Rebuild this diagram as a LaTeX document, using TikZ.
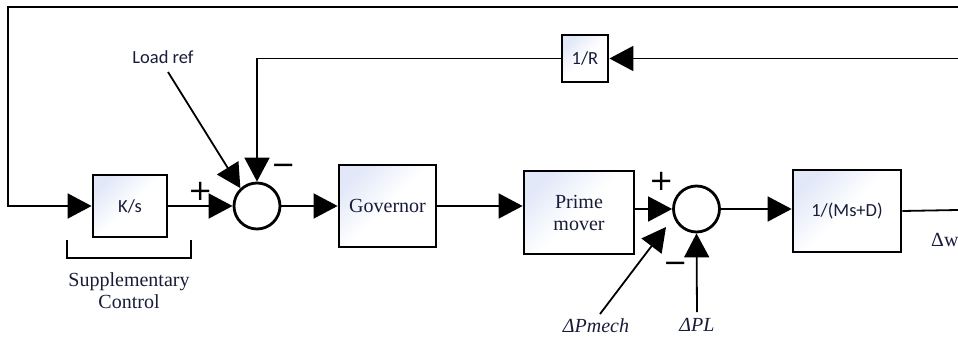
\documentclass[tikz,border=0pt]{standalone}
\usepackage{fontspec}
\setmainfont{Liberation Serif}
\newfontfamily\sansf{Carlito}
\newfontfamily\signf{DejaVu Sans}
\usetikzlibrary{arrows.meta}
\definecolor{txt}{RGB}{24,28,56}
\definecolor{boxblue}{RGB}{226,232,248}
\begin{document}
\begin{tikzpicture}[x=1pt,y=-1pt,
  blk/.style={draw, line width=2.8pt, top color=boxblue, bottom color=white, middle color=white, shading angle=45, inner sep=0pt, text=txt, align=center},
  sumc/.style={circle, draw, line width=2.8pt, minimum size=46pt, inner sep=0pt, fill=white},
  arr/.style={line width=1.8pt, -{Triangle[length=24pt,width=25pt]}},
  ln/.style={line width=1.8pt},
  lbl/.style={text=txt, inner sep=0pt},
  sgn/.style={inner sep=0pt, font=\signf\fontsize{29}{29}\selectfont},
  serifs/.style={font=\fontsize{20}{22}\selectfont},
  sanss/.style={font=\sansf\fontsize{18.5}{20}\selectfont}]
\useasboundingbox (0,0) rectangle (958,339);

% blocks
\node[blk, sanss, minimum width=74pt, minimum height=62pt] (ks) at (130,206) {K/s};
\node[sumc] (s1) at (257,206) {};
\node[blk, serifs, minimum width=97pt, minimum height=82pt] (gov) at (387.5,206) {Governor};
\node[blk, serifs, minimum width=110pt, minimum height=83pt] (pm) at (579,212.5) {Prime\\mover};
\node[sumc] (s2) at (696.5,209) {};
\node[blk, sanss, minimum width=108pt, minimum height=82pt] (ms) at (847,211) {1/(Ms+D)};
\node[blk, sanss, minimum width=46pt, minimum height=47pt] (oneR) at (585,58.5) {1/R};

% labels
\node[lbl, sanss] (lr) at (163,57) {Load ref};
\node[lbl, serifs] (pmech) at (596,326) {\textit{ΔPmech}};
\node[lbl, serifs] (pl) at (697,325) {\textit{ΔPL}};
\node[lbl, serifs, anchor=west] (dw) at (931,240) {Δw};
\node[lbl, serifs, align=center] (sc) at (129,291) {Supplementary\\Control};

% signs
\node[sgn] (p1) at (201,191) {+};
\node[sgn] (m1) at (284,169) {−};
\node[sgn] (p2) at (662,181) {+};
\node[sgn] (m2) at (676,267) {−};

% coordinates
\coordinate (r1) at (958,7);
\coordinate (tl) at (8,7);
\coordinate (r2) at (958,58.5);
\coordinate (r3) at (958,210);
\coordinate (lrs) at (168,72);
\coordinate (pms) at (600,314);
\coordinate (pme) at (666,227);
\coordinate (b1) at (67,240);
\coordinate (b2) at (67,258);
\coordinate (b3) at (191,258);
\coordinate (b4) at (191,240);

% connectors
\draw[arr] (r1) -- (tl) |- (ks.west);
\draw[arr] (ks.east) -- (s1.west);
\draw[arr] (s1.east) -- (gov.west);
\draw[arr] (gov.east) -- (gov.east -| pm.west);
\draw[arr] (pm.east |- s2.west) -- (s2.west);
\draw[arr] (s2.east) -- (s2.east -| ms.west);
\draw[ln] (ms.east) -- (r3);
\draw[arr] (r2) -- (oneR.east);
\draw[arr] (oneR.west) -| (s1.north);
\draw[arr] (lrs) -- (s1.133);
\draw[arr] (pms) -- (pme);
\draw[arr] (pl.north) ++(0,-6) -- (s2.south);
\draw[line width=2pt] (b1) -- (b2) -- (b3) -- (b4);
\end{tikzpicture}
\end{document}
